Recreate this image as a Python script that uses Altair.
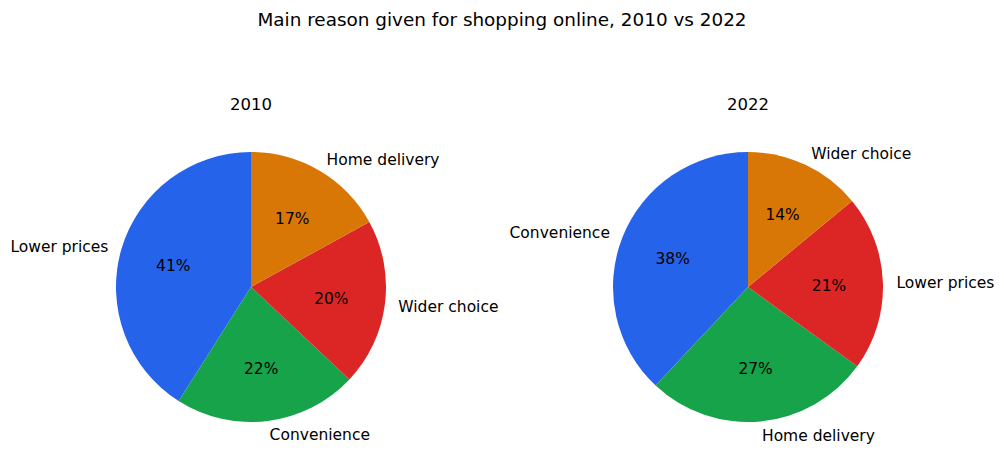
import altair as alt
import pandas as pd

title = "Main reason given for shopping online, 2010 vs 2022"
years = ["2010", "2022"]
cats_2010 = ["Lower prices", "Convenience", "Wider choice", "Home delivery"]
vals_2010 = [41, 22, 20, 17]
cats_2022 = ["Convenience", "Home delivery", "Lower prices", "Wider choice"]
vals_2022 = [38, 27, 21, 14]
colors = ["#2563eb", "#16a34a", "#dc2626", "#d97706"]

FONT = "DejaVu Sans"
R = 135
CY = 287


def pie(cats, vals, cx):
    df = pd.DataFrame({
        "cat": cats,
        "val": vals,
        "color": colors,
        "k": list(range(len(cats)))[::-1],
    })
    base = alt.Chart(df).encode(
        theta=alt.Theta("val:Q", stack=True),
        order=alt.Order("k:Q", sort="ascending"),
        x=alt.value(cx),
        y=alt.value(CY),
    )
    arc = base.mark_arc(radius=R).encode(color=alt.Color("color:N", scale=None))
    pct = base.transform_calculate(
        pct="format(datum.val, 'd') + '%'"
    ).mark_text(radius=R * 0.6, font=FONT, fontSize=15.4, color="black",
                baseline="middle", dy=1.5).encode(
        text="pct:N"
    )
    side = base.transform_joinaggregate(total="sum(val)").transform_window(
        cum="sum(val)", sort=[alt.SortField("k", order="ascending")]
    ).transform_calculate(
        mid="(datum.cum - datum.val / 2) / datum.total"
    )
    right = side.transform_calculate(
        lab="datum.mid < 0.5 ? datum.cat : ''"
    ).mark_text(radius=R * 1.1, align="left", baseline="middle", font=FONT,
                fontSize=15.5, color="black", dy=1).encode(text="lab:N")
    left = side.transform_calculate(
        lab="datum.mid >= 0.5 ? datum.cat : ''"
    ).mark_text(radius=R * 1.1, align="right", baseline="middle", font=FONT,
                fontSize=15.5, color="black", dy=1).encode(text="lab:N")
    return alt.layer(arc, pct, right, left)


def label(text, x, y, size):
    return alt.Chart(pd.DataFrame({"t": [text]})).mark_text(
        font=FONT, fontSize=size, color="black", baseline="middle"
    ).encode(text="t:N", x=alt.value(x), y=alt.value(y))


chart = alt.layer(
    pie(cats_2010, vals_2010, 251),
    pie(cats_2022, vals_2022, 748),
    label(title, 502, 20, 18.4),
    label(years[0], 251, 105, 16.5),
    label(years[1], 748, 105, 16.5),
).resolve_scale(theta="independent").properties(
    width=1004, height=467, autosize="none", padding=0
).configure_view(stroke=None)

chart.save("out.html", embed_options={"renderer": "svg", "actions": False})
